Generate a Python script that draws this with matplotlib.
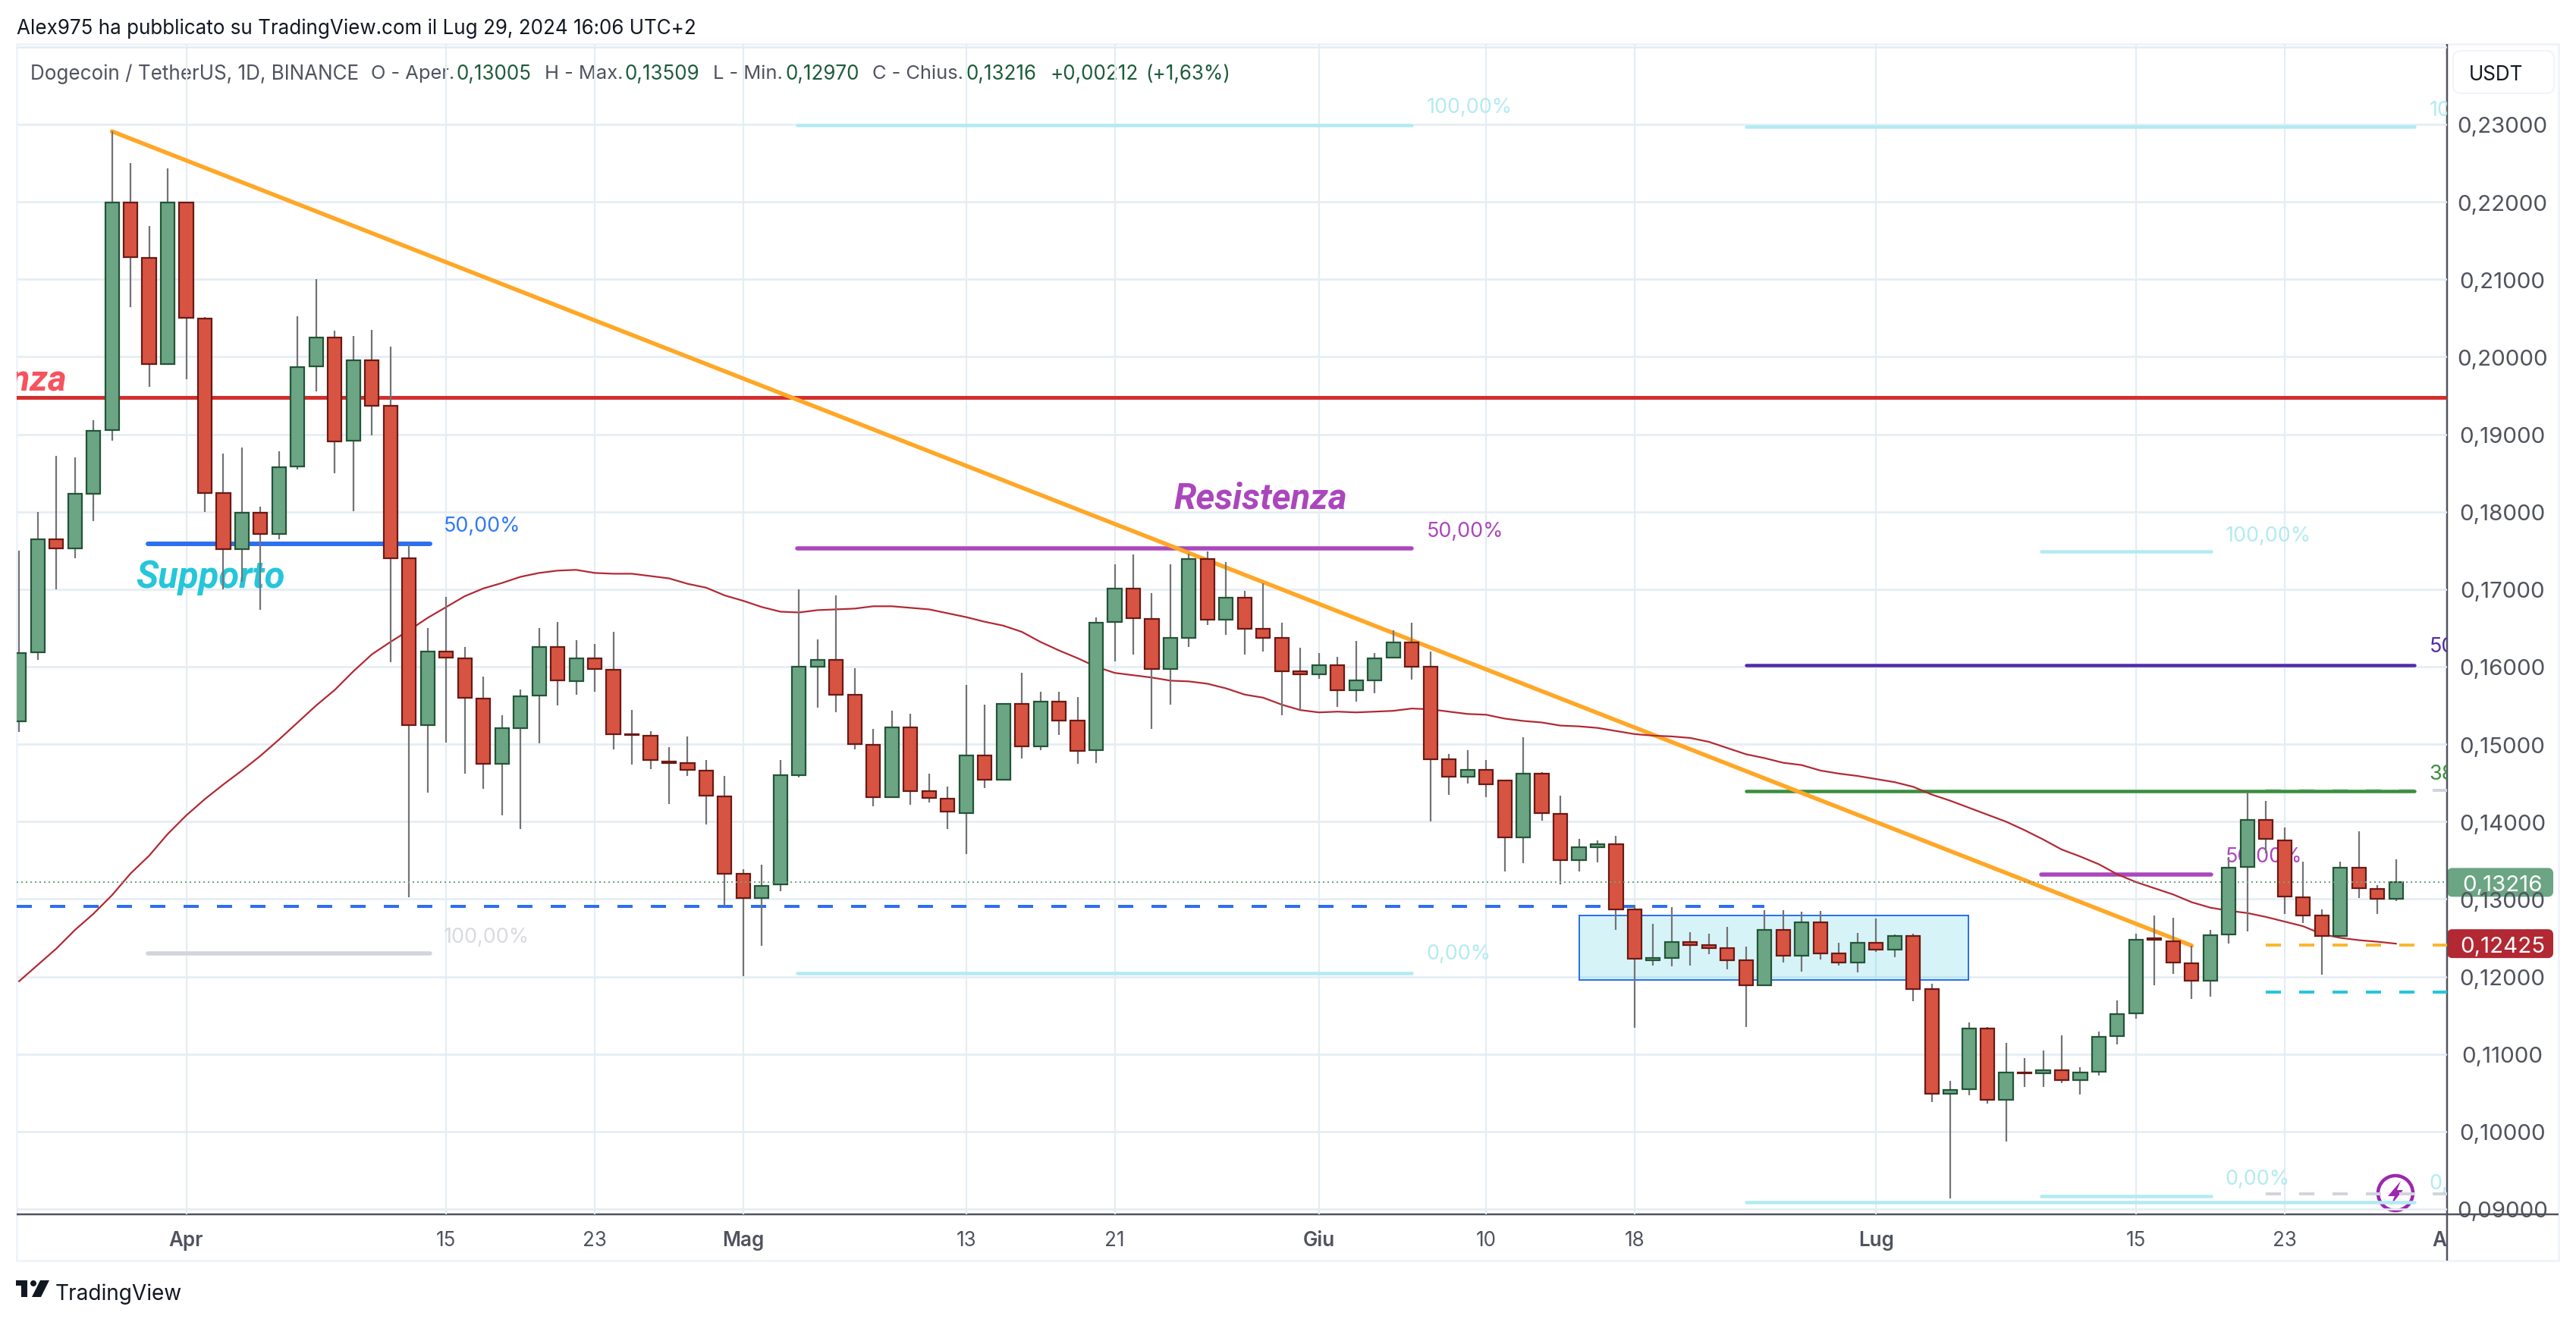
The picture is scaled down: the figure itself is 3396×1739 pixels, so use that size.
import numpy as np
import matplotlib
matplotlib.use("Agg")
import matplotlib.pyplot as plt
import matplotlib.patches as patches
from matplotlib.transforms import Bbox

plt.rcParams['font.family'] = ['Inter', 'DejaVu Sans']

# Daily candles, first one is 23 March 2024, last one 29 July 2024
opens = [.1529,.1619,.1764,.1753,.1823,.1905,.2199,.2128,.1991,.2199,
         .2049,.1824,.1752,.1799,.1771,.1858,.1988,.2025,.1892,.1996,
         .1937,.174,.1525,.162,.1611,.1559,.1475,.1521,.1563,.1625,
         .1581,.1611,.1596,.1513,.1511,.1478,.1476,.1466,.1433,.1333,
         .1301,.1319,.146,.16,.1609,.1564,.1499,.1432,.1522,.1439,
         .143,.1411,.1485,.1454,.1552,.1497,.1555,.153,.1492,.1658,
         .1701,.1662,.1597,.1637,.1739,.1661,.1689,.1649,.1637,.1594,
         .159,.1602,.157,.1582,.1612,.1631,.16,.1481,.1458,.1467,
         .1453,.138,.1462,.141,.135,.1367,.1371,.1287,.1221,.1224,
         .1245,.1241,.1237,.1221,.1189,.126,.1227,.127,.123,.1218,
         .1244,.1235,.1252,.1184,.1049,.1055,.1133,.1041,.1076,.1075,
         .1079,.1066,.1077,.1123,.1153,.1249,.1246,.1217,.1195,.1254,
         .1342,.1402,.1376,.1302,.1279,.1252,.1341,.1313,.13005]
highs = [.175,.18,.1872,.187,.1918,.2291,.225,.2169,.2243,.2199,
         .2051,.1875,.1883,.1807,.1878,.2052,.21,.2034,.2027,.2035,
         .2013,.1758,.165,.169,.1625,.1587,.1537,.1571,.165,.1658,
         .1634,.1629,.1645,.1544,.1517,.1496,.151,.148,.1459,.1339,
         .1344,.148,.17,.1635,.1692,.1598,.152,.1543,.1539,.1462,
         .1445,.1576,.1551,.1552,.1592,.1568,.1568,.1561,.1664,.1732,
         .1745,.1695,.1732,.1746,.1749,.1735,.1698,.1708,.1657,.1624,
         .1618,.1613,.1633,.1618,.1647,.1657,.162,.1487,.1492,.148,
         .1452,.1509,.1464,.1434,.1378,.1376,.1382,.1293,.1268,.129,
         .1257,.1255,.1264,.1239,.1286,.1286,.1284,.1285,.1244,.1256,
         .1275,.1254,.1255,.1191,.1065,.1141,.1135,.1114,.1095,.1105,
         .1124,.1083,.1129,.1169,.1255,.1279,.1276,.124,.126,.1354,
         .1438,.1427,.1392,.1348,.1287,.1348,.1388,.1318,.13509]
lows = [.1516,.1609,.17,.174,.1788,.1892,.2064,.1961,.1991,.1971,
        .18,.17,.171,.1673,.1764,.1855,.1955,.185,.1801,.1899,
        .1606,.1302,.1437,.1502,.1462,.1442,.1408,.139,.1501,.155,
        .1564,.1568,.1493,.1474,.1468,.1423,.1459,.1396,.1292,.1201,
        .124,.131,.1457,.1547,.1541,.1493,.142,.1432,.1422,.1425,
        .139,.1358,.1443,.1453,.1482,.1492,.1512,.1475,.1476,.1607,
        .1616,.152,.1551,.1625,.1654,.1641,.1616,.162,.1537,.1544,
        .1584,.1548,.1555,.1566,.1611,.1583,.14,.1435,.1449,.1432,
        .1336,.1346,.1401,.1319,.1336,.1347,.126,.1134,.1214,.1213,
        .1214,.1229,.1209,.1135,.1188,.1218,.1206,.1222,.1214,.1205,
        .1232,.1225,.1168,.1038,.0914,.1047,.1036,.0987,.1058,.1058,
        .1062,.1048,.1072,.1112,.1146,.1189,.1203,.1171,.1174,.1243,
        .1258,.1359,.1281,.1269,.1202,.1252,.1301,.1281,.1297]
closes = [.1618,.1764,.1753,.1823,.1904,.2199,.2129,.1991,.2199,.205,
          .1824,.1752,.1799,.1771,.1857,.1987,.2025,.1891,.1996,.1937,
          .174,.1525,.162,.1612,.156,.1475,.1521,.1562,.1625,.1582,
          .1611,.1597,.1513,.1512,.148,.1476,.1467,.1434,.1333,.1301,
          .1317,.146,.16,.1609,.1564,.15,.1432,.1522,.1439,.1431,
          .1413,.1485,.1454,.1552,.1497,.1555,.153,.1491,.1657,.1701,
          .1663,.1597,.1637,.1739,.1661,.1689,.1649,.1637,.1594,.159,
          .1602,.157,.1582,.1611,.1631,.16,.1481,.1458,.1467,.1448,
          .138,.1462,.1411,.135,.1367,.1371,.1287,.1223,.1224,.1245,
          .1241,.1237,.1221,.1189,.126,.1227,.127,.123,.1218,.1244,
          .1235,.1252,.1184,.1049,.1054,.1133,.1041,.1076,.1075,.1079,
          .1066,.1076,.1122,.1152,.1248,.1248,.1218,.1195,.1253,.1341,
          .1402,.1378,.1303,.1279,.1252,.1341,.1314,.13,.13216]
ma_values = [.1194,.1215,.1236,.126,.1281,.1305,.1333,.1356,.1384,.1408,
             .1429,.1448,.1466,.1485,.1506,.1528,.155,.157,.1594,.1616,
             .1632,.1647,.1663,.1677,.1691,.1701,.1708,.1716,.1721,.1724,
             .1725,.1721,.172,.172,.1717,.1714,.1707,.1702,.1692,.1685,
             .1677,.1671,.167,.1673,.1674,.1675,.1678,.1678,.1676,.1674,
             .1669,.1664,.1658,.1653,.1645,.1632,.1621,.1611,.16,.1592,
             .1589,.1586,.1582,.1581,.1578,.1572,.1564,.156,.1551,.1544,
             .1541,.1542,.1541,.1542,.1543,.1546,.1545,.1542,.1539,.1538,
             .1533,.153,.1528,.1524,.1523,.1521,.1517,.1513,.1511,.151,
             .1508,.1503,.1495,.1487,.1482,.1476,.1473,.1466,.1462,.1459,
             .1455,.1451,.1445,.1435,.1427,.1418,.1409,.14,.1389,.1377,
             .1364,.1355,.1345,.1332,.1322,.1314,.1306,.1296,.1289,.1285,
             .1282,.1277,.1271,.1265,.1255,.125,.1247,.1245,.12425]

# x axis: days counted from 1 April
x_tick_days = [0, 14, 22, 30, 42, 50, 61, 70, 78, 91, 105, 113, 122]
x_tick_labels = ['Apr', '15', '23', 'Mag', '13', '21', 'Giu', '10', '18', 'Lug', '15', '23', 'Ago']
month_labels = ['Apr', 'Mag', 'Giu', 'Lug', 'Ago']
price_ticks = [.23, .22, .21, .20, .19, .18, .17, .16, .15, .14, .13, .12, .11, .10, .09]

# trend line drawn on the chart
trend_days = [-4, 108]
trend_prices = [.2291, .124]
last_close = .13216
last_ma = .12425

GREEN = '#6ba583'
GREEN_EDGE = '#225437'
RED = '#d75442'
RED_EDGE = '#6b1914'
WICK = '#737375'
GRID = '#e4edf3'
FRAME = '#f0f3fa'
AXIS = '#50535e'
BLUE = '#2e6ff0'
PURPLE = '#ab47bc'
CYAN_LIGHT = '#b2ebf2'
GRAY_LINE = '#d1d4dc'
PX = 72 / 200  # one pixel in points

fig = plt.figure(figsize=(16.98, 8.70), dpi=200, facecolor='white')

# page axes in pixels, for everything that is not on the price scale
page = fig.add_axes([0, 0, 1, 1], zorder=1)
page.set_xlim(0, 3396)
page.set_ylim(1740, 0)
page.axis('off')

L, R, T, B = 22, 3226, 59, 1602
ax = fig.add_axes([L / 3396, 1 - B / 1740, (R - L) / 3396, (B - T) / 1740], zorder=2)
ax.set_xlim((L - 245.5) / 24.48, (R - 245.5) / 24.48)
ax.set_ylim(.23 - (B - 165) / 10214, .23 + (165 - T) / 10214)
ax.patch.set_alpha(0)
for s in ax.spines.values():
    s.set_visible(False)
ax.set_xticks([])
ax.set_yticks([])
left_day = ax.get_xlim()[0]

# Grid
ax.vlines(x_tick_days[:-1], 0, 1, transform=ax.get_xaxis_transform(), color=GRID, lw=2.2 * PX, zorder=1)
ax.hlines(price_ticks + [.24], 0, 1, transform=ax.get_yaxis_transform(), color=GRID, lw=2.6 * PX, zorder=1)


def level(d0, d1, price, color, width=5, zorder=3):
    ax.plot([d0, d1], [price, price], color=color, lw=width * PX, solid_capstyle='round', zorder=zorder)


def dashed(d0, d1, price, color, width=4):
    ax.plot([d0, d1], [price, price], color=color, lw=width * PX, zorder=2.9,
            dashes=(20 / width, 24 / width), dash_capstyle='butt')


def pct(day, price, label, color):
    ax.text(day, price, label, color=color, fontsize=27 * PX, va='center', ha='left', clip_on=True, zorder=2.5)


# Zone rectangle
ax.add_patch(patches.Rectangle((75.0, .1196), 20.97, .0083, facecolor='#00bcd4', alpha=.16, edgecolor='none', zorder=2))
ax.add_patch(patches.Rectangle((75.0, .1196), 20.97, .0083, fill=False, edgecolor=BLUE, lw=2 * PX, zorder=2.1))

# Horizontal resistance + dashed support
ax.plot([-10, 122], [.1948, .1948], color='#d32f2f', lw=5 * PX, zorder=3)
dashed(left_day, 85, .1291, BLUE)

# Fib levels, left block
level(-2.08, 13.14, .1759, BLUE, 6)
level(-2.08, 13.14, .1230, GRAY_LINE, 5.5)
pct(13.85, .1782, '50,00%', '#3179f5')
pct(13.85, .1251, '100,00%', '#d8dae0')

# Fib levels, middle block
level(32.9, 66, .2299, CYAN_LIGHT, 4.5)
level(32.9, 66, .1753, PURPLE, 5.5)
level(32.9, 66, .1204, CYAN_LIGHT, 4.5)
pct(66.8, .2323, '100,00%', CYAN_LIGHT)
pct(66.8, .1775, '50,00%', PURPLE)
pct(66.8, .1230, '0,00%', CYAN_LIGHT)

# Fib levels, right block
level(84, 120, .2297, CYAN_LIGHT, 4.5)
level(84, 120, .1602, '#512da8', 4.5)
level(84, 120, .1439, '#388e3c', 4.5)
level(84, 120, .0909, CYAN_LIGHT, 4.5)
pct(120.8, .2319, '100,00%', CYAN_LIGHT)
pct(120.8, .1626, '50,00%', '#512da8')
pct(120.8, .1462, '38,20%', '#388e3c')
pct(120.8, .0933, '0,00%', CYAN_LIGHT)

# Small fib block
level(99.9, 109.05, .1749, CYAN_LIGHT, 4.5)
level(99.9, 109.05, .1332, PURPLE, 5.5)
level(99.9, 109.05, .0917, CYAN_LIGHT, 4.5)
pct(109.8, .1769, '100,00%', CYAN_LIGHT)
pct(109.8, .1355, '50,00%', PURPLE)
pct(109.8, .0939, '0,00%', CYAN_LIGHT)

# Dashed levels at the right
dashed(112, 122, .1440, GRAY_LINE)
dashed(112, 122, .0920, GRAY_LINE)
dashed(112, 122, .1241, '#f9b72f')
dashed(112, 122, .1180, '#26c6da')

# Trend line and text notes
ax.plot(trend_days, trend_prices, color='#ffa726', lw=5.5 * PX, solid_capstyle='round', zorder=3.2)
ax.text(-6.43, .1958, 'Resistenza', color='#f7525f', fontsize=47.5 * PX, style='italic', weight='bold',
        ha='right', va='baseline', clip_on=True, zorder=2.5, family='Roboto')
ax.text(-2.7, .1703, 'Supporto', color='#26c6da', fontsize=49 * PX, style='italic', weight='bold',
        ha='left', va='baseline', clip_on=True, zorder=2.5, family='Roboto')
ax.text(53.2, .1805, 'Resistenza', color=PURPLE, fontsize=47.5 * PX, style='italic', weight='bold',
        ha='left', va='baseline', clip_on=True, zorder=2.5, family='Roboto')

# Moving average
days = np.arange(len(opens)) - 9
ax.plot(days, ma_values, color='#b22833', lw=2.2 * PX, zorder=4)

# Candles
opens = np.array(opens)
closes = np.array(closes)
up = closes >= opens
ax.vlines(days, lows, highs, color=WICK, lw=2.2 * PX, zorder=5)
ax.bar(days, np.abs(closes - opens), bottom=np.minimum(opens, closes), width=.74,
       color=np.where(up, GREEN, RED), edgecolor=np.where(up, GREEN_EDGE, RED_EDGE),
       linewidth=2.2 * PX, zorder=6)

# Last price dotted line
ax.plot([left_day, 122], [last_close, last_close], color=GREEN, lw=2 * PX, dashes=(1, 2), dash_capstyle='butt', zorder=7)

# Outer frame
page.add_patch(patches.Rectangle((L, T), 3373 - L, 1663 - T, fill=False, edgecolor=FRAME, lw=3 * PX))


def page_y(price):
    return 165 + (.23 - price) * 10214


# Price scale
for p in price_ticks:
    page.text(3299, page_y(p), f'{p:.5f}'.replace('.', ','), color=AXIS, fontsize=29.5 * PX,
              ha='center', va='center_baseline')

# Date scale, the last label is cut by the price scale
for d, label in zip(x_tick_days, x_tick_labels):
    t = page.text(245.5 + 24.48 * d, 1633, label, color=AXIS, fontsize=26 * PX, ha='center', va='center_baseline',
                  weight='semibold' if label in month_labels else 'normal')
    t.set_clip_box(Bbox([[L, 1740 - 1663], [R, 1740 - 1604]]))
    t.set_clip_on(True)

# Price tags
for price, col in [(last_close, GREEN), (last_ma, '#b22833')]:
    y = page_y(price)
    page.add_patch(patches.FancyBboxPatch((R + 3, y - 16), 134, 32, boxstyle='round,pad=0,rounding_size=4',
                                          facecolor=col, edgecolor=col, lw=6 * PX))
    page.text(3299, y, f'{price:.5f}'.replace('.', ','), color='white', fontsize=29.5 * PX,
              ha='center', va='center_baseline')

# Axis lines
page.plot([L, 3373], [B, B], color=AXIS, lw=2.5 * PX, zorder=5, solid_capstyle='butt')
page.plot([R, R], [T, 1663], color=AXIS, lw=2.5 * PX, zorder=5, solid_capstyle='butt')

# USDT box
page.add_patch(patches.FancyBboxPatch((3234, 68), 133, 56, boxstyle='round,pad=0,rounding_size=10',
                                      facecolor='white', edgecolor=FRAME, lw=2 * PX))
page.text(3255, 96, 'USDT', color='#131722', fontsize=26 * PX, ha='left', va='center_baseline')

# Header and legend
page.text(22, 35, 'Alex975 ha pubblicato su TradingView.com il Lug 29, 2024 16:06 UTC+2', color='#131722',
          fontsize=26 * PX, ha='left', va='center_baseline')
legend_parts = [(40, 'Dogecoin / TetherUS, 1D, BINANCE', AXIS, 26), (489, 'O - Aper.', AXIS, 25.5),
                (602, '0,13005', '#1e5c3a', 26), (718, 'H - Max.', AXIS, 25.5), (824, '0,13509', '#1e5c3a', 26),
                (940, 'L - Min.', AXIS, 25.5), (1036, '0,12970', '#1e5c3a', 26), (1150, 'C - Chius.', AXIS, 25.5),
                (1274, '0,13216', '#1e5c3a', 26), (1385, '+0,00212', '#1e5c3a', 26), (1510, '(+1,63%)', '#1e5c3a', 26)]
for x0, label, col, size in legend_parts:
    page.text(x0, 95, label, color=col, fontsize=size * PX, ha='left', va='center_baseline', zorder=6)

# TradingView logo
logo = '#131722'
page.add_patch(patches.Polygon([(21, 1689), (36, 1689), (36, 1711), (28, 1711), (28, 1696), (21, 1696)], color=logo, lw=0))
page.add_patch(patches.Circle((44, 1693), 4, color=logo, lw=0))
page.add_patch(patches.Polygon([(53, 1689), (65, 1689), (54, 1711), (42, 1711)], color=logo, lw=0))
page.text(73, 1703, 'TradingView', color=logo, fontsize=28 * PX, ha='left', va='center_baseline')

# Flash icon
page.add_patch(patches.Circle((3158, 1574), 23, facecolor='white', edgecolor='#9c27b0', lw=4.5 * PX, zorder=6))
page.add_patch(patches.Polygon([(3165, 1558), (3148, 1578), (3157, 1578), (3152, 1590), (3168, 1570), (3160, 1570)],
                               color='#9c27b0', lw=0, zorder=7))

plt.savefig('out.png', dpi=200, facecolor='white')
